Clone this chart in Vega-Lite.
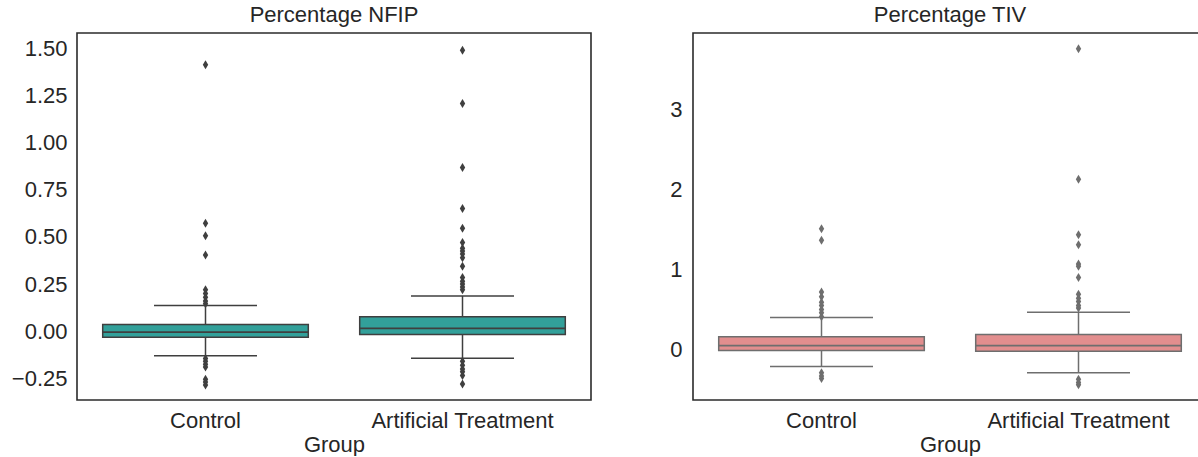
{
  "$schema": "https://vega.github.io/schema/vega-lite/v6.json",
  "padding": {"left": 10, "top": 3, "right": 0, "bottom": 0},
  "background": "white",
  "bounds": "flush",
  "spacing": 102,
  "config": {
    "font": "Liberation Sans",
    "view": {"stroke": "#2b2b2b", "strokeWidth": 1.6},
    "axis": {"grid": false, "ticks": false, "domain": false, "labelFont": "Liberation Sans", "labelFontSize": 22, "labelColor": "#262626", "labelLimit": 0, "titleFont": "Liberation Sans", "titleFontSize": 22, "titleFontWeight": "normal", "titleColor": "#262626", "labelPadding": 10},
    "axisX": {"labelAngle": 0, "titlePadding": 3},
    "title": {"font": "Liberation Sans", "fontSize": 22, "fontWeight": "normal", "color": "#262626", "frame": "group", "offset": 6}
  },
  "datasets": {
    "summary": [
      {"panel": "NFIP", "group": "Control", "q1": -0.032, "median": -0.005, "q3": 0.036, "lo": -0.130, "hi": 0.137},
      {"panel": "NFIP", "group": "Artificial Treatment", "q1": -0.018, "median": 0.015, "q3": 0.077, "lo": -0.143, "hi": 0.187},
      {"panel": "TIV", "group": "Control", "q1": -0.01, "median": 0.05, "q3": 0.16, "lo": -0.21, "hi": 0.40},
      {"panel": "TIV", "group": "Artificial Treatment", "q1": -0.02, "median": 0.05, "q3": 0.19, "lo": -0.29, "hi": 0.465}
    ],
    "outliers": [
      {"panel": "NFIP", "group": "Control", "value": 1.414},
      {"panel": "NFIP", "group": "Control", "value": 0.573},
      {"panel": "NFIP", "group": "Control", "value": 0.507},
      {"panel": "NFIP", "group": "Control", "value": 0.404},
      {"panel": "NFIP", "group": "Control", "value": 0.22},
      {"panel": "NFIP", "group": "Control", "value": 0.20},
      {"panel": "NFIP", "group": "Control", "value": 0.18},
      {"panel": "NFIP", "group": "Control", "value": 0.16},
      {"panel": "NFIP", "group": "Control", "value": 0.145},
      {"panel": "NFIP", "group": "Control", "value": -0.145},
      {"panel": "NFIP", "group": "Control", "value": -0.16},
      {"panel": "NFIP", "group": "Control", "value": -0.175},
      {"panel": "NFIP", "group": "Control", "value": -0.19},
      {"panel": "NFIP", "group": "Control", "value": -0.255},
      {"panel": "NFIP", "group": "Control", "value": -0.27},
      {"panel": "NFIP", "group": "Control", "value": -0.285},
      {"panel": "NFIP", "group": "Artificial Treatment", "value": 1.49},
      {"panel": "NFIP", "group": "Artificial Treatment", "value": 1.208},
      {"panel": "NFIP", "group": "Artificial Treatment", "value": 0.868},
      {"panel": "NFIP", "group": "Artificial Treatment", "value": 0.651},
      {"panel": "NFIP", "group": "Artificial Treatment", "value": 0.546},
      {"panel": "NFIP", "group": "Artificial Treatment", "value": 0.471},
      {"panel": "NFIP", "group": "Artificial Treatment", "value": 0.44},
      {"panel": "NFIP", "group": "Artificial Treatment", "value": 0.425},
      {"panel": "NFIP", "group": "Artificial Treatment", "value": 0.41},
      {"panel": "NFIP", "group": "Artificial Treatment", "value": 0.39},
      {"panel": "NFIP", "group": "Artificial Treatment", "value": 0.345},
      {"panel": "NFIP", "group": "Artificial Treatment", "value": 0.285},
      {"panel": "NFIP", "group": "Artificial Treatment", "value": 0.265},
      {"panel": "NFIP", "group": "Artificial Treatment", "value": 0.25},
      {"panel": "NFIP", "group": "Artificial Treatment", "value": 0.235},
      {"panel": "NFIP", "group": "Artificial Treatment", "value": 0.22},
      {"panel": "NFIP", "group": "Artificial Treatment", "value": -0.16},
      {"panel": "NFIP", "group": "Artificial Treatment", "value": -0.18},
      {"panel": "NFIP", "group": "Artificial Treatment", "value": -0.2},
      {"panel": "NFIP", "group": "Artificial Treatment", "value": -0.215},
      {"panel": "NFIP", "group": "Artificial Treatment", "value": -0.235},
      {"panel": "NFIP", "group": "Artificial Treatment", "value": -0.28},
      {"panel": "TIV", "group": "Control", "value": 1.51},
      {"panel": "TIV", "group": "Control", "value": 1.365},
      {"panel": "TIV", "group": "Control", "value": 0.72},
      {"panel": "TIV", "group": "Control", "value": 0.66},
      {"panel": "TIV", "group": "Control", "value": 0.59},
      {"panel": "TIV", "group": "Control", "value": 0.55},
      {"panel": "TIV", "group": "Control", "value": 0.50},
      {"panel": "TIV", "group": "Control", "value": 0.46},
      {"panel": "TIV", "group": "Control", "value": 0.41},
      {"panel": "TIV", "group": "Control", "value": -0.29},
      {"panel": "TIV", "group": "Control", "value": -0.33},
      {"panel": "TIV", "group": "Control", "value": -0.36},
      {"panel": "TIV", "group": "Artificial Treatment", "value": 3.76},
      {"panel": "TIV", "group": "Artificial Treatment", "value": 2.13},
      {"panel": "TIV", "group": "Artificial Treatment", "value": 1.435},
      {"panel": "TIV", "group": "Artificial Treatment", "value": 1.31},
      {"panel": "TIV", "group": "Artificial Treatment", "value": 1.07},
      {"panel": "TIV", "group": "Artificial Treatment", "value": 1.04},
      {"panel": "TIV", "group": "Artificial Treatment", "value": 0.90},
      {"panel": "TIV", "group": "Artificial Treatment", "value": 0.69},
      {"panel": "TIV", "group": "Artificial Treatment", "value": 0.64},
      {"panel": "TIV", "group": "Artificial Treatment", "value": 0.60},
      {"panel": "TIV", "group": "Artificial Treatment", "value": 0.55},
      {"panel": "TIV", "group": "Artificial Treatment", "value": 0.52},
      {"panel": "TIV", "group": "Artificial Treatment", "value": -0.37},
      {"panel": "TIV", "group": "Artificial Treatment", "value": -0.41},
      {"panel": "TIV", "group": "Artificial Treatment", "value": -0.44}
    ]
  },
  "hconcat": [
    {
      "width": 514,
      "height": 367,
      "title": {"text": "Percentage NFIP"},
      "encoding": {
        "x": {"field": "group", "type": "nominal", "sort": ["Control", "Artificial Treatment"], "scale": {"paddingInner": 0, "paddingOuter": 0}, "title": "Group"}
      },
      "layer": [
        {
          "data": {"name": "summary"},
          "transform": [{"filter": "datum.panel === 'NFIP'"}],
          "mark": {"type": "rule", "color": "#3f3f3f", "strokeWidth": 1.5},
          "encoding": {
            "y": {"field": "lo", "type": "quantitative", "scale": {"domain": [-0.365, 1.582], "nice": false, "zero": false}, "axis": {"values": [-0.25, 0, 0.25, 0.5, 0.75, 1, 1.25, 1.5], "format": ".2f"}, "title": null},
            "y2": {"field": "hi"}
          }
        },
        {
          "data": {"name": "summary"},
          "transform": [{"filter": "datum.panel === 'NFIP'"}],
          "mark": {"type": "bar", "width": {"band": 0.8}, "fill": "#32A09A", "stroke": "#3f3f3f", "strokeWidth": 1.5},
          "encoding": {
            "y": {"field": "q1", "type": "quantitative"},
            "y2": {"field": "q3"}
          }
        },
        {
          "data": {"name": "summary"},
          "transform": [{"filter": "datum.panel === 'NFIP'"}],
          "mark": {"type": "tick", "size": 206, "thickness": 1.8, "color": "#3f3f3f", "opacity": 1},
          "encoding": {"y": {"field": "median", "type": "quantitative"}}
        },
        {
          "data": {"name": "summary"},
          "transform": [{"filter": "datum.panel === 'NFIP'"}],
          "mark": {"type": "tick", "size": 103, "thickness": 1.5, "color": "#3f3f3f", "opacity": 1},
          "encoding": {"y": {"field": "lo", "type": "quantitative"}}
        },
        {
          "data": {"name": "summary"},
          "transform": [{"filter": "datum.panel === 'NFIP'"}],
          "mark": {"type": "tick", "size": 103, "thickness": 1.5, "color": "#3f3f3f", "opacity": 1},
          "encoding": {"y": {"field": "hi", "type": "quantitative"}}
        },
        {
          "data": {"name": "outliers"},
          "transform": [{"filter": "datum.panel === 'NFIP'"}],
          "mark": {"type": "point", "shape": "M0,-1L0.6,0L0,1L-0.6,0Z", "size": 81, "filled": true, "color": "#3f3f3f", "opacity": 1, "strokeWidth": 0},
          "encoding": {"y": {"field": "value", "type": "quantitative"}}
        }
      ]
    },
    {
      "width": 514,
      "height": 367,
      "title": {"text": "Percentage TIV"},
      "encoding": {
        "x": {"field": "group", "type": "nominal", "sort": ["Control", "Artificial Treatment"], "scale": {"paddingInner": 0, "paddingOuter": 0}, "title": "Group"}
      },
      "layer": [
        {
          "data": {"name": "summary"},
          "transform": [{"filter": "datum.panel === 'TIV'"}],
          "mark": {"type": "rule", "color": "#6e6e6e", "strokeWidth": 1.5},
          "encoding": {
            "y": {"field": "lo", "type": "quantitative", "scale": {"domain": [-0.63, 3.956], "nice": false, "zero": false}, "axis": {"values": [0, 1, 2, 3], "format": "d", "labelPadding": 11}, "title": null},
            "y2": {"field": "hi"}
          }
        },
        {
          "data": {"name": "summary"},
          "transform": [{"filter": "datum.panel === 'TIV'"}],
          "mark": {"type": "bar", "width": {"band": 0.8}, "fill": "#E28E8E", "stroke": "#6e6e6e", "strokeWidth": 1.5},
          "encoding": {
            "y": {"field": "q1", "type": "quantitative"},
            "y2": {"field": "q3"}
          }
        },
        {
          "data": {"name": "summary"},
          "transform": [{"filter": "datum.panel === 'TIV'"}],
          "mark": {"type": "tick", "size": 206, "thickness": 1.8, "color": "#6e6e6e", "opacity": 1},
          "encoding": {"y": {"field": "median", "type": "quantitative"}}
        },
        {
          "data": {"name": "summary"},
          "transform": [{"filter": "datum.panel === 'TIV'"}],
          "mark": {"type": "tick", "size": 103, "thickness": 1.5, "color": "#6e6e6e", "opacity": 1},
          "encoding": {"y": {"field": "lo", "type": "quantitative"}}
        },
        {
          "data": {"name": "summary"},
          "transform": [{"filter": "datum.panel === 'TIV'"}],
          "mark": {"type": "tick", "size": 103, "thickness": 1.5, "color": "#6e6e6e", "opacity": 1},
          "encoding": {"y": {"field": "hi", "type": "quantitative"}}
        },
        {
          "data": {"name": "outliers"},
          "transform": [{"filter": "datum.panel === 'TIV'"}],
          "mark": {"type": "point", "shape": "M0,-1L0.6,0L0,1L-0.6,0Z", "size": 81, "filled": true, "color": "#6e6e6e", "opacity": 1, "strokeWidth": 0},
          "encoding": {"y": {"field": "value", "type": "quantitative"}}
        }
      ]
    }
  ],
  "resolve": {"scale": {"y": "independent"}}
}
